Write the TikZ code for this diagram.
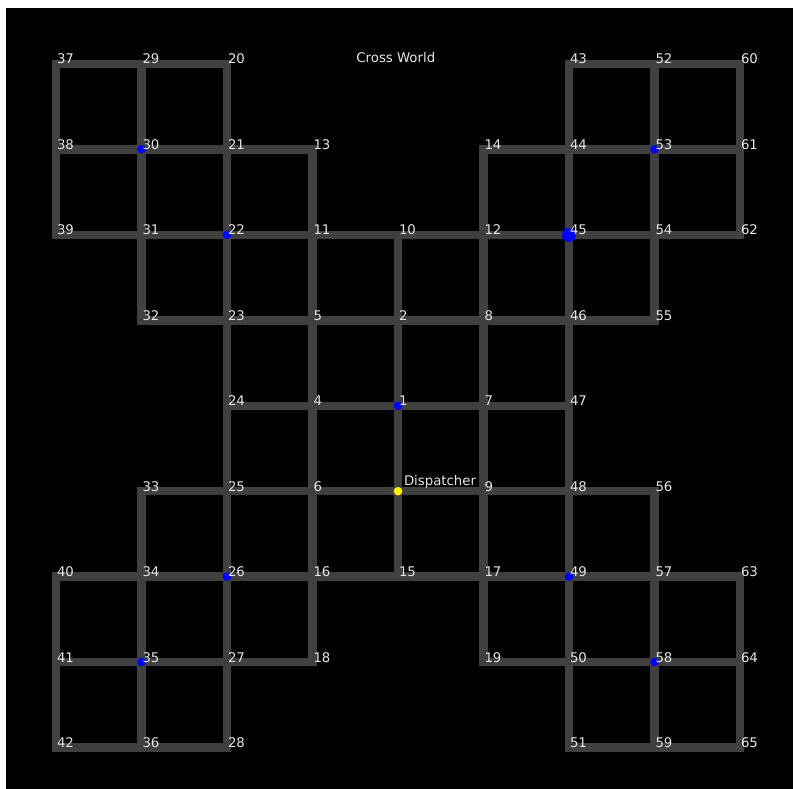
\documentclass[tikz,border=0pt]{standalone}
\usepackage{fontspec}
\setmainfont{DejaVu Sans}
\usepackage{tikz}

\definecolor{roadgray}{HTML}{404040}
\definecolor{labelgray}{HTML}{E6E6E6}

\begin{document}
\begin{tikzpicture}[
  x=1pt, y=-1pt,
  road/.style={draw=roadgray, line width=8.5pt, line cap=rect, line join=miter},
  num/.style={anchor=base west, inner sep=0pt, xshift=0.8pt, text=labelgray, font=\fontsize{13.3}{16}\selectfont},
  stop/.style={fill=blue},
  depot/.style={fill=yellow}
]
% page and background
\fill[white] (0,0) rectangle (793,789);
\fill[black] (6,8) rectangle (793,789);
\useasboundingbox (0,0) rectangle (793,789);

% crossings: name/column/row
\foreach \n/\c/\r in {
  37/0/0, 29/1/0, 20/2/0, 43/6/0, 52/7/0, 60/8/0,
  38/0/1, 30/1/1, 21/2/1, 13/3/1, 14/5/1, 44/6/1, 53/7/1, 61/8/1,
  39/0/2, 31/1/2, 22/2/2, 11/3/2, 10/4/2, 12/5/2, 45/6/2, 54/7/2, 62/8/2,
  32/1/3, 23/2/3, 5/3/3, 2/4/3, 8/5/3, 46/6/3, 55/7/3,
  24/2/4, 4/3/4, 1/4/4, 7/5/4, 47/6/4,
  33/1/5, 25/2/5, 6/3/5, 9/5/5, 48/6/5, 56/7/5,
  40/0/6, 34/1/6, 26/2/6, 16/3/6, 15/4/6, 17/5/6, 49/6/6, 57/7/6, 63/8/6,
  41/0/7, 35/1/7, 27/2/7, 18/3/7, 19/5/7, 50/6/7, 58/7/7, 64/8/7,
  42/0/8, 36/1/8, 28/2/8, 51/6/8, 59/7/8, 65/8/8}
  \coordinate (n\n) at ({56+85.5*\c},{64+85.44*\r});
\coordinate (d) at ({56+85.5*4},{64+85.44*5});

% streets, rows
\draw[road] (n37) -- (n29) -- (n20);
\draw[road] (n43) -- (n52) -- (n60);
\draw[road] (n38) -- (n30) -- (n21) -- (n13);
\draw[road] (n14) -- (n44) -- (n53) -- (n61);
\draw[road] (n39) -- (n31) -- (n22) -- (n11) -- (n10) -- (n12) -- (n45) -- (n54) -- (n62);
\draw[road] (n32) -- (n23) -- (n5) -- (n2) -- (n8) -- (n46) -- (n55);
\draw[road] (n24) -- (n4) -- (n1) -- (n7) -- (n47);
\draw[road] (n33) -- (n25) -- (n6) -- (d) -- (n9) -- (n48) -- (n56);
\draw[road] (n40) -- (n34) -- (n26) -- (n16) -- (n15) -- (n17) -- (n49) -- (n57) -- (n63);
\draw[road] (n41) -- (n35) -- (n27) -- (n18);
\draw[road] (n19) -- (n50) -- (n58) -- (n64);
\draw[road] (n42) -- (n36) -- (n28);
\draw[road] (n51) -- (n59) -- (n65);
% streets, columns
\draw[road] (n37) -- (n38) -- (n39);
\draw[road] (n40) -- (n41) -- (n42);
\draw[road] (n29) -- (n30) -- (n31) -- (n32);
\draw[road] (n33) -- (n34) -- (n35) -- (n36);
\draw[road] (n20) -- (n21) -- (n22) -- (n23) -- (n24) -- (n25) -- (n26) -- (n27) -- (n28);
\draw[road] (n13) -- (n11) -- (n5) -- (n4) -- (n6) -- (n16) -- (n18);
\draw[road] (n10) -- (n2) -- (n1) -- (d) -- (n15);
\draw[road] (n14) -- (n12) -- (n8) -- (n7) -- (n9) -- (n17) -- (n19);
\draw[road] (n43) -- (n44) -- (n45) -- (n46) -- (n47) -- (n48) -- (n49) -- (n50) -- (n51);
\draw[road] (n52) -- (n53) -- (n54) -- (n55);
\draw[road] (n56) -- (n57) -- (n58) -- (n59);
\draw[road] (n60) -- (n61) -- (n62);
\draw[road] (n63) -- (n64) -- (n65);

% vehicles
\foreach \n in {30,22,1,26,35,49,58,53}
  \fill[stop] (n\n) circle (4.3pt);
\fill[stop] (n45) circle (7pt);
\fill[depot] (d) circle (4.3pt);

% labels
\foreach \n in {1,2,4,5,6,7,8,9,10,11,...,65}
  \node[num] (l\n) at (n\n) {\n};
\node[num, xshift=5pt, yshift=5.5pt] (ld) at (d) {Dispatcher};
\node[num, anchor=base, xshift=0pt] (title) at (395,62.5) {Cross World};
\end{tikzpicture}
\end{document}
